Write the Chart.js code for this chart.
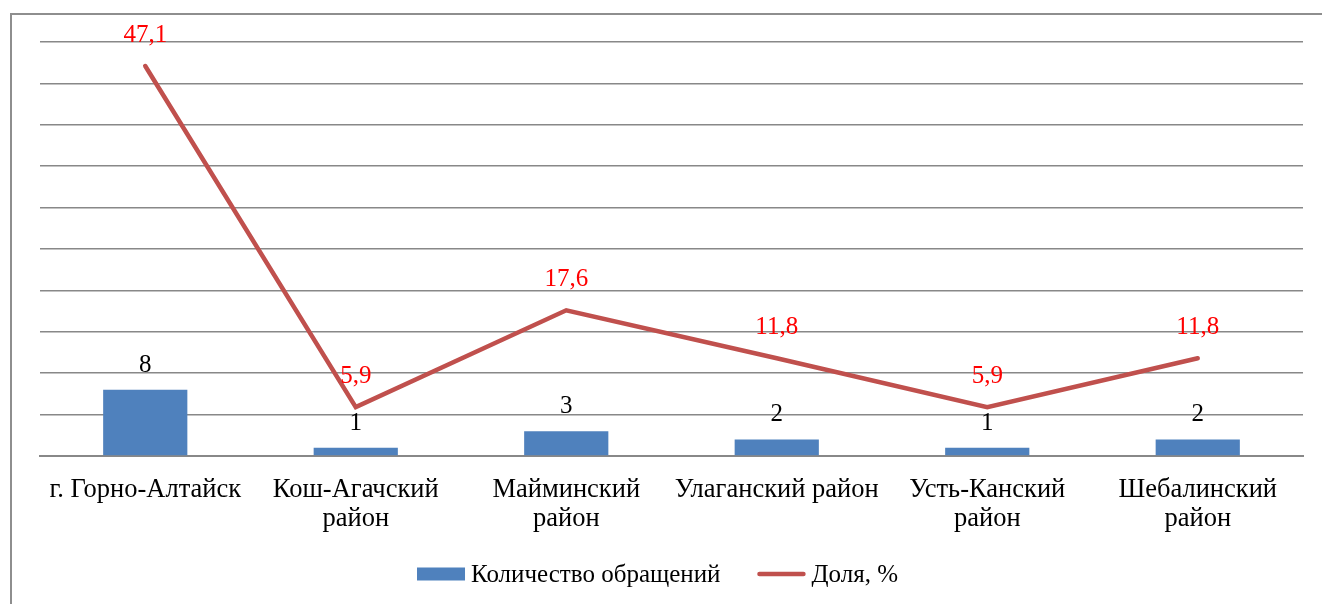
<!DOCTYPE html>
<html>
<head>
<meta charset="utf-8">
<script src="https://cdn.jsdelivr.net/npm/chart.js@4"></script>
<style>
  html, body { margin: 0; padding: 0; background: #fff; overflow: hidden; }
  #frame { position: absolute; left: 10px; top: 13px; width: 1400px; height: 700px; border: 2px solid #8e8e8e; }
  #myChart { position: absolute; left: 0; top: 0; }
</style>
</head>
<body>
<div id="frame"></div>
<canvas id="myChart" width="1322" height="604"></canvas>
<script>
const categories = [
  "г. Горно-Алтайск",
  ["Кош-Агачский", "район"],
  ["Майминский", "район"],
  "Улаганский район",
  ["Усть-Канский", "район"],
  ["Шебалинский", "район"],
];
const counts = [8, 1, 3, 2, 1, 2];
const shares = [47.1, 5.9, 17.6, 11.8, 5.9, 11.8];

const serif = "'Liberation Serif', 'Times New Roman', serif";

// value labels above bars and line points
const valueLabels = {
  id: "valueLabels",
  afterDatasetsDraw(chart) {
    const ctx = chart.ctx;
    ctx.save();
    ctx.font = "25px " + serif;
    ctx.textAlign = "center";
    ctx.textBaseline = "alphabetic";
    chart.data.datasets.forEach((ds, i) => {
      const meta = chart.getDatasetMeta(i);
      meta.data.forEach((el, j) => {
        if (ds.type === "line") {
          ctx.fillStyle = "#ff0000";
          ctx.fillText(ds.data[j].toFixed(1).replace(".", ","), el.x, el.y - 24);
        } else {
          ctx.fillStyle = "#000";
          ctx.fillText(String(ds.data[j]), el.x, el.y - 18);
        }
      });
    });
    ctx.restore();
  },
};

// legend under the axis labels, excel-like spacing
const bottomLegend = {
  id: "bottomLegend",
  afterDraw(chart) {
    const ctx = chart.ctx;
    const area = chart.chartArea;
    const ds = chart.data.datasets;
    ctx.save();
    ctx.font = "25px " + serif;
    ctx.textBaseline = "middle";
    ctx.textAlign = "left";
    const w1 = ctx.measureText(ds[0].label).width;
    const w2 = ctx.measureText(ds[1].label).width;
    const total = 48 + 6 + w1 + 37 + 48 + 6 + w2;
    let x = (area.left + area.right) / 2 - 14 - total / 2;
    const y = 574;
    ctx.fillStyle = ds[0].backgroundColor;
    ctx.fillRect(x, y - 6.5, 48, 13);
    x += 54;
    ctx.fillStyle = "#000";
    ctx.fillText(ds[0].label, x, y + 1);
    x += w1 + 37;
    ctx.strokeStyle = ds[1].borderColor;
    ctx.lineWidth = 4.5;
    ctx.lineCap = "round";
    ctx.beginPath();
    ctx.moveTo(x + 2, y);
    ctx.lineTo(x + 46, y);
    ctx.stroke();
    x += 54;
    ctx.fillText(ds[1].label, x, y + 1);
    ctx.restore();
  },
};

const ctx = document.getElementById("myChart");
let chart = new Chart(ctx, {
  type: "bar",
  data: {
    labels: categories,
    datasets: [
      {
        type: "bar",
        label: "Количество обращений",
        data: counts,
        backgroundColor: "#4f81bd",
        borderWidth: 0,
        categoryPercentage: 1,
        barPercentage: 0.4,
        order: 2,
      },
      {
        type: "line",
        label: "Доля, %",
        data: shares,
        borderColor: "#c0504d",
        backgroundColor: "#c0504d",
        borderWidth: 4.5,
        borderCapStyle: "round",
        pointRadius: 0,
        tension: 0,
        order: 1,
      },
    ],
  },
  options: {
    responsive: false,
    devicePixelRatio: 1,
    animation: false,
    layout: {
      padding: { left: 40, right: 19, top: 42, bottom: 64 },
    },
    scales: {
      x: {
        grid: { display: false },
        border: { display: true, color: "#888888", width: 2 },
        ticks: {
          color: "#000",
          font: { family: serif, size: 26.5, lineHeight: 1.1 },
          padding: 11,
          maxRotation: 0,
          autoSkip: false,
        },
        afterFit(scale) {
          scale.height = 84;
        },
      },
      y: {
        min: 0,
        max: 50,
        ticks: { display: false, stepSize: 5 },
        border: { display: false },
        grid: { color: "#888888", lineWidth: 1.5, drawTicks: false },
      },
    },
    plugins: {
      tooltip: { enabled: false },
      legend: { display: false },
    },
  },
  plugins: [valueLabels, bottomLegend],
});
</script>
</body>
</html>
